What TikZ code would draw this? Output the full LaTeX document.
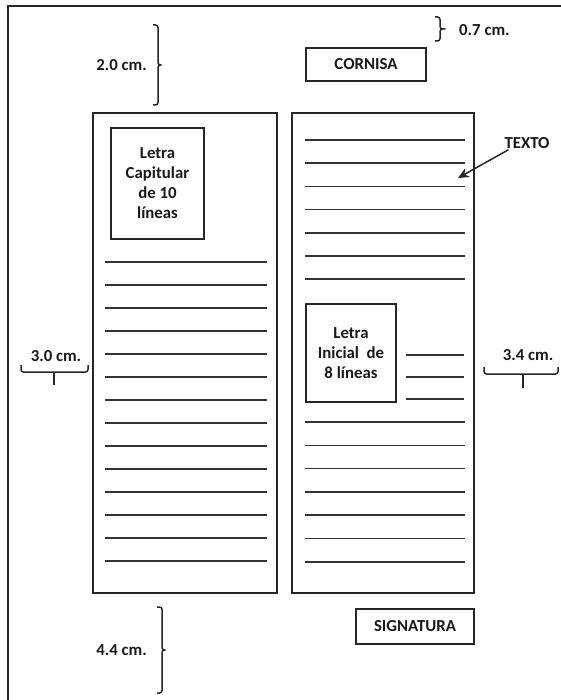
\documentclass[tikz,border=0pt]{standalone}
\usepackage{fontspec}
\setmainfont{Carlito}
\usetikzlibrary{arrows.meta}
\begin{document}
\begin{tikzpicture}[x=1pt,y=-1pt,
  every node/.style={font=\bfseries\fontsize{16.8}{20}\selectfont, text=black!90},
  boxnode/.style={draw=black!85, line width=1.5pt, inner sep=0pt, align=center},
  colbox/.style={draw=black!85, line width=1.5pt, inner sep=0pt},
  txtline/.style={draw=black!80, line width=1.5pt},
  bracket/.style={draw=black!85, line width=1.5pt, rounded corners=2.5pt},
  lbl/.style={inner sep=1pt}]
\useasboundingbox (0,0) rectangle (561,700);
% outer frame (partly cut)
\draw[line width=1.5pt, black!85] (8,700) -- (8,6) -- (561,6);
% columns
\node[colbox, minimum width=184pt, minimum height=480pt] (lcol) at (185,353) {};
\node[colbox, minimum width=182pt, minimum height=480pt] (rcol) at (383,353) {};
% header / footer boxes
\node[boxnode, minimum width=120pt, minimum height=33pt] (cornisa) at (366,64.5) {CORNISA};
\node[boxnode, minimum width=118pt, minimum height=35pt] (signatura) at (415,626.5) {SIGNATURA};
% initial boxes
\node[boxnode, minimum width=93pt, minimum height=111pt] (capital) at (157.5,183.5) {Letra\\Capitular\\de 10\\líneas};
\node[boxnode, minimum width=90pt, minimum height=98pt] (inicial) at (351,353) {Letra\\Inicial\ \ de\\8 líneas};
% text lines, left column
\foreach \i in {0,...,13} \draw[txtline] (105,262+23*\i) -- (267,262+23*\i);
% text lines, right column
\foreach \i in {0,...,6} \draw[txtline] (305,140+23.2*\i) -- (465,140+23.2*\i);
\foreach \y in {355,377,399} \draw[txtline] (406,\y) -- (464,\y);
\foreach \i in {0,...,6} \draw[txtline] (305,422+23.3*\i) -- (465,422+23.3*\i);
% TEXTO label and arrow
\node[lbl] (texto) at (527,143) {TEXTO};
\coordinate (textotip) at (458,178);
\draw[line width=1.5pt, black!85, -{Stealth[length=11pt,width=10pt]}] (texto.200) -- (textotip);
% 0.7 cm
\draw[bracket] (435,17) -- (440,17) -- (440,29) -- (444,29) -- (440,29) -- (440,41) -- (435,41);
\node[lbl, anchor=west] (d07) at (458,30) {0.7 cm.};
% 2.0 cm
\draw[bracket] (153,25) -- (158,25) -- (158,65) -- (163,65) -- (158,65) -- (158,105) -- (153,105);
\node[lbl, anchor=east] (d20) at (148,65) {2.0 cm.};
% 4.4 cm
\draw[bracket] (157,607) -- (162,607) -- (162,650) -- (167,650) -- (162,650) -- (162,693) -- (157,693);
\node[lbl, anchor=east] (d44) at (148,650) {4.4 cm.};
% 3.0 cm
\draw[bracket] (21,365) -- (21,372) -- (88,372) -- (88,365);
\draw[line width=1.5pt, black!85] (54,372) -- (54,385);
\node[lbl] (d30) at (56,356) {3.0 cm.};
% 3.4 cm
\draw[bracket] (484,367) -- (484,374) -- (558,374) -- (558,367);
\draw[line width=1.5pt, black!85] (523,374) -- (523,388);
\node[lbl] (d34) at (528,355) {3.4 cm.};
\end{tikzpicture}
\end{document}
